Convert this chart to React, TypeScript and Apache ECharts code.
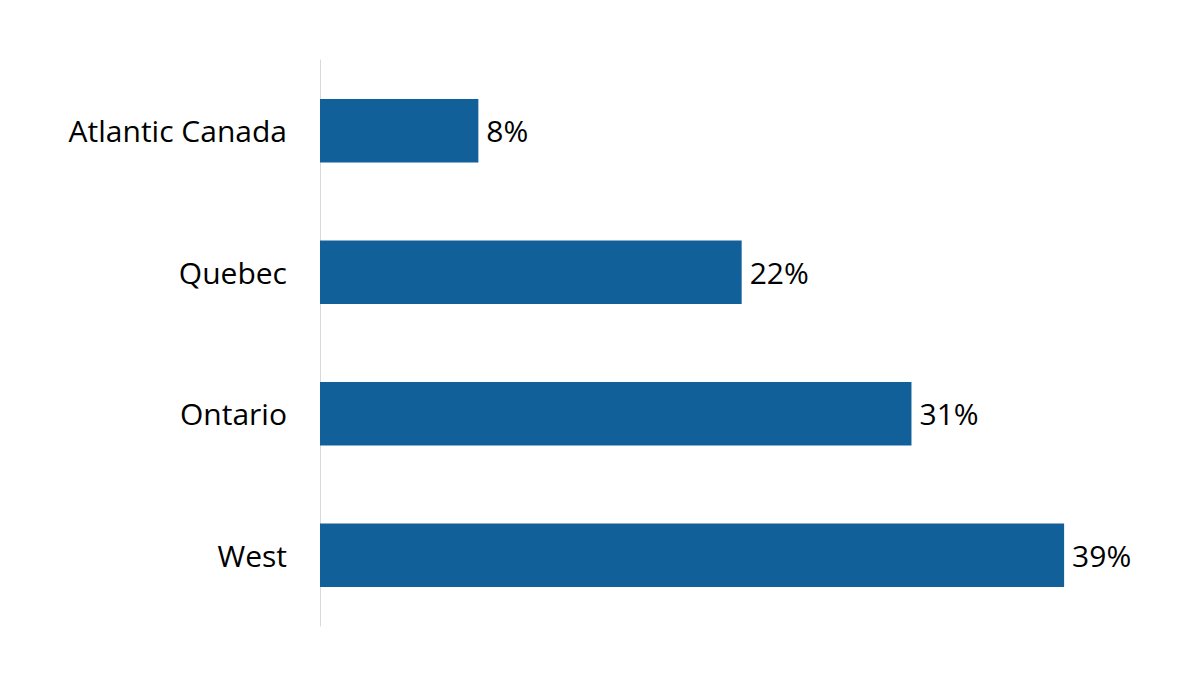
import React, { useEffect, useRef } from "react";
import * as echarts from "echarts";

const categories = ["Atlantic Canada", "Quebec", "Ontario", "West"];
const values = [8.3, 22.1, 31, 39];

export default function App() {
  const ref = useRef<HTMLDivElement>(null);
  useEffect(() => {
    const chart = echarts.init(ref.current!, null, { renderer: "svg" });
    chart.setOption({
      animation: false,
      backgroundColor: "#ffffff",
      grid: { left: 320, top: 60, height: 566, width: 763.2, containLabel: false },
      xAxis: {
        type: "value",
        min: 0,
        max: 40,
        show: false,
      },
      yAxis: {
        type: "category",
        data: categories,
        inverse: true,
        axisLine: { show: true, lineStyle: { color: "#d9d9d9", width: 1 } },
        axisTick: { show: false },
        axisLabel: {
          margin: 33,
          color: "#000000",
          fontSize: 30,
          fontFamily: "Open Sans",
        },
      },
      series: [
        {
          type: "bar",
          data: values,
          barWidth: "45%",
          itemStyle: { color: "#11609a" },
          label: {
            show: true,
            position: "right",
            distance: 8,
            color: "#000000",
            fontSize: 30,
            fontFamily: "Open Sans",
            formatter: (p: any) => Math.round(p.value) + "%",
          },
        },
      ],
    });
    return () => chart.dispose();
  }, []);
  return <div ref={ref} style={{ width: 1200, height: 675, position: "absolute", left: 0, top: 0 }} />;
}
